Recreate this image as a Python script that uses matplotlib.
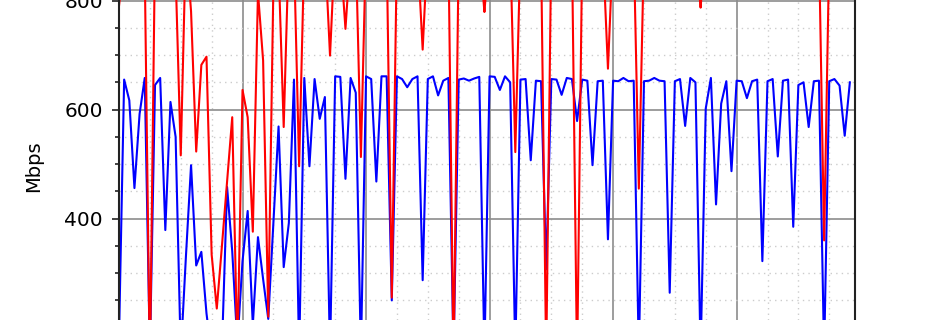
import numpy as np
import matplotlib.pyplot as plt
from matplotlib.ticker import MultipleLocator

# throughput samples (Mbps), one per interval
blue_mbps = [180, 655, 617, 456, 592, 658, 150, 645, 658, 379,
             614, 550, 150, 330, 498, 314, 339, 226, 150, 150,
             160, 458, 340, 170, 322, 414, 205, 366, 289, 216,
             394, 569, 311, 392, 655, 150, 658, 496, 656, 583,
             623, 150, 661, 660, 473, 658, 631, 150, 661, 656,
             468, 661, 661, 250, 661, 656, 641, 656, 661, 287,
             656, 661, 626, 653, 658, 150, 655, 657, 653, 657,
             660, 150, 661, 660, 636, 661, 650, 150, 655, 656,
             507, 653, 652, 307, 656, 655, 627, 658, 656, 579,
             655, 653, 498, 652, 653, 362, 653, 652, 658, 652,
             653, 150, 652, 653, 658, 653, 652, 264, 652, 656,
             570, 658, 650, 150, 602, 658, 426, 611, 652, 487,
             653, 652, 621, 652, 655, 322, 652, 656, 514, 653,
             655, 385, 645, 650, 568, 652, 653, 150, 652, 656,
             644, 552, 650]

red_mbps = [790, 880, 905, 890, 910, 860, 120, 900, 885, 910,
            895, 850, 516, 910, 780, 523, 682, 697, 334, 235,
            350, 469, 586, 150, 636, 586, 376, 815, 690, 220,
            830, 865, 568, 900, 885, 496, 890, 910, 880, 900,
            895, 699, 905, 885, 748, 890, 900, 513, 905, 890,
            910, 885, 900, 255, 895, 910, 885, 900, 890, 710,
            905, 885, 910, 895, 900, 130, 890, 905, 885, 910,
            895, 779, 900, 885, 910, 890, 905, 522, 895, 910,
            885, 900, 890, 140, 905, 885, 910, 895, 900, 130,
            890, 905, 885, 910, 895, 675, 900, 885, 910, 890,
            905, 455, 895, 910, 885, 900, 890, 905, 885, 910,
            895, 900, 890, 787, 905, 885, 910, 895, 900, 890,
            905, 885, 910, 895, 900, 890, 905, 885, 910, 895,
            900, 890, 905, 885, 910, 895, 900, 360, 890, 905,
            885, 910, 895]

x = np.arange(len(blue_mbps))

fig = plt.figure(figsize=(9.5, 3.2), dpi=100)
ax = fig.add_axes([119 / 950, 0, 736 / 950, 1])

ax.plot(x, blue_mbps, color='#0000ff', lw=1.5)
ax.plot(x, red_mbps, color='#ff0000', lw=1.5)

ax.set_xlim(0, 143)
ax.set_ylim(214, 801)

ax.xaxis.set_major_locator(MultipleLocator(24))
ax.xaxis.set_minor_locator(MultipleLocator(6))
ax.yaxis.set_major_locator(MultipleLocator(200))
ax.yaxis.set_minor_locator(MultipleLocator(50))

ax.grid(which='major', color='#8c8c8c', lw=1.2, ls='-')
ax.grid(which='minor', color='#cccccc', lw=1.0, ls=(0, (1, 3)))
ax.set_axisbelow(True)

ax.tick_params(axis='y', which='major', length=5, width=1.2, pad=6.7,
               labelsize=14.5, color='#222222')
ax.tick_params(axis='y', which='minor', length=2.9, width=1.2, color='#222222')
ax.tick_params(axis='x', which='both', length=0, labelbottom=False)

for side in ['top', 'bottom']:
    ax.spines[side].set_visible(False)
for side in ['left', 'right']:
    ax.spines[side].set_linewidth(1.5)
    ax.spines[side].set_color('#222222')

fig.text(34 / 950, 1 - 166 / 320, 'Mbps', rotation=90, ha='center', va='center', fontsize=14)

fig.savefig('out.png', dpi=100)
